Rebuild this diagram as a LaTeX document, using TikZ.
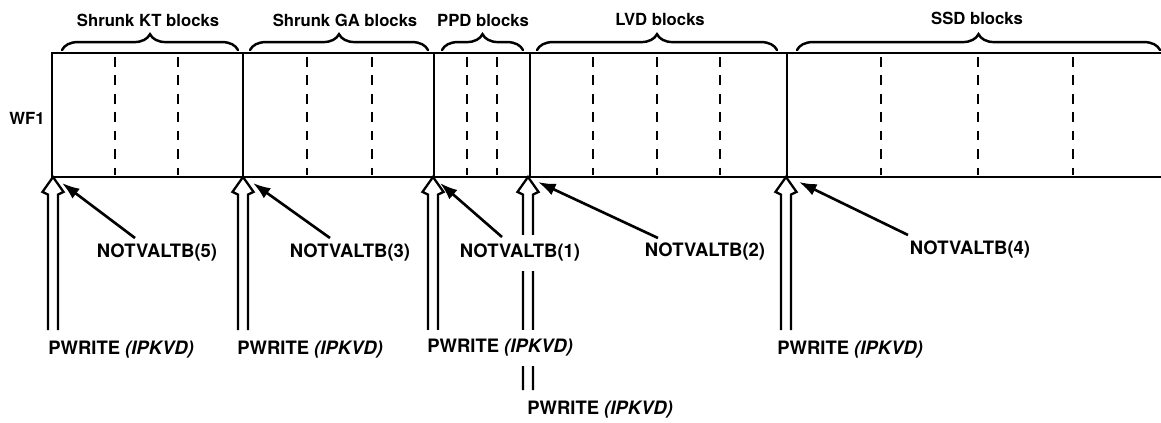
\documentclass[tikz,border=0pt]{standalone}
\usepackage{fontspec}
\setsansfont{TeX Gyre Heros}
\usetikzlibrary{arrows.meta,decorations.pathreplacing}
\begin{document}
\begin{tikzpicture}[x=0.02cm,y=-0.02cm,
 frame/.style={line width=1.5pt},
 part/.style={line width=1.6pt,dash pattern=on 5.5pt off 5pt},
 brc/.style={decorate,decoration={brace,amplitude=9pt},line width=1.4pt,line cap=round},
 blab/.style={font=\sffamily\bfseries\fontsize{9.5}{11}\selectfont},
 lab/.style={font=\sffamily\bfseries\fontsize{10.5}{12}\selectfont,inner xsep=0pt},
 gap/.style={fill=white,inner ysep=5.5pt},
 ptr/.style={line width=1.5pt,-{Latex[length=10pt,width=7pt]}},
 wr/.style={line width=1.3pt,line join=miter,to path={([xshift=-2.8pt]\tikztostart)
   -- ([xshift=-2.8pt,yshift=-10pt]\tikztotarget) -- ([xshift=-6pt,yshift=-8.5pt]\tikztotarget)
   -- (\tikztotarget) -- ([xshift=6pt,yshift=-8.5pt]\tikztotarget)
   -- ([xshift=2.8pt,yshift=-10pt]\tikztotarget) -- ([xshift=2.8pt]\tikztostart)}}]
\useasboundingbox (0,0) rectangle (1161,423);
\draw[frame] (1161,53) -- (52,53) -- (52,177) -- (1161,177);
\draw[frame] (243,53) -- (243,177); \draw[frame] (434,53) -- (434,177);
\draw[frame] (530,53) -- (530,177); \draw[frame] (787,53) -- (787,177);
\draw[part] (115,57) -- (115,175); \draw[part] (178,57) -- (178,175);
\draw[part] (307,57) -- (307,175); \draw[part] (372,57) -- (372,175);
\draw[part] (467,57) -- (467,175); \draw[part] (497,57) -- (497,175);
\draw[part] (593,57) -- (593,175); \draw[part] (657,57) -- (657,175); \draw[part] (720,57) -- (720,175);
\draw[part] (881,57) -- (881,175); \draw[part] (978,57) -- (978,175); \draw[part] (1073,57) -- (1073,175);
\draw[brc] (62,50) -- (238,50); \draw[brc] (250,50) -- (428,50);
\draw[brc] (442,50) -- (523,50); \draw[brc] (537,50) -- (777,50);
\draw[brc] (797,50) -- (1160,50);
\node[blab] (kt) at (148,20) {Shrunk KT blocks};
\node[blab] (ga) at (345,20) {Shrunk GA blocks};
\node[blab] (ppd) at (483,20) {PPD blocks};
\node[blab] (lvd) at (660,19) {LVD blocks};
\node[blab] (ssd) at (977,18) {SSD blocks};
\node[blab] (wf) at (27,118) {WF1};
\coordinate (d1) at (53,177); \coordinate (d2) at (243,177); \coordinate (d3) at (433,177);
\coordinate (d4) at (528,177); \coordinate (d5) at (786,177);
\coordinate (b1) at (53,330); \coordinate (b2) at (243,330); \coordinate (b3) at (433,330);
\coordinate (b4) at (528,390); \coordinate (b5) at (786,330);
\draw[wr] (b1) to (d1); \draw[wr] (b2) to (d2); \draw[wr] (b3) to (d3);
\draw[wr] (b4) to (d4); \draw[wr] (b5) to (d5);
\node[lab] (n5) at (157,253) {NOTVALTB(5)};
\node[lab] (n3) at (350,253) {NOTVALTB(3)};
\node[lab,gap] (n1) at (520,253) {NOTVALTB(1)};
\node[lab] (n2) at (705,252) {NOTVALTB(2)};
\node[lab] (n4) at (970,250) {NOTVALTB(4)};
\node[lab,anchor=west] (pw1) at (48,350) {PWRITE \textit{(IPKVD)}};
\node[lab,anchor=west] (pw2) at (237,350) {PWRITE \textit{(IPKVD)}};
\node[lab,anchor=west,gap] (pw3) at (427,348) {PWRITE \textit{(IPKVD)}};
\node[lab,anchor=west] (pw4) at (527,410) {PWRITE \textit{(IPKVD)}};
\node[lab,anchor=west] (pw5) at (777,350) {PWRITE \textit{(IPKVD)}};
\coordinate (h5) at (62,183); \coordinate (h3) at (253,183); \coordinate (h1) at (440,183);
\coordinate (h2) at (538,182); \coordinate (h4) at (799,182);
\coordinate (t5) at (135,238); \coordinate (t3) at (330,238); \coordinate (t1) at (502,237);
\coordinate (t2) at (658,238); \coordinate (t4) at (908,235);
\draw[ptr] (t5) -- (h5); \draw[ptr] (t3) -- (h3); \draw[ptr] (t1) -- (h1);
\draw[ptr] (t2) -- (h2); \draw[ptr] (t4) -- (h4);
\end{tikzpicture}
\end{document}
